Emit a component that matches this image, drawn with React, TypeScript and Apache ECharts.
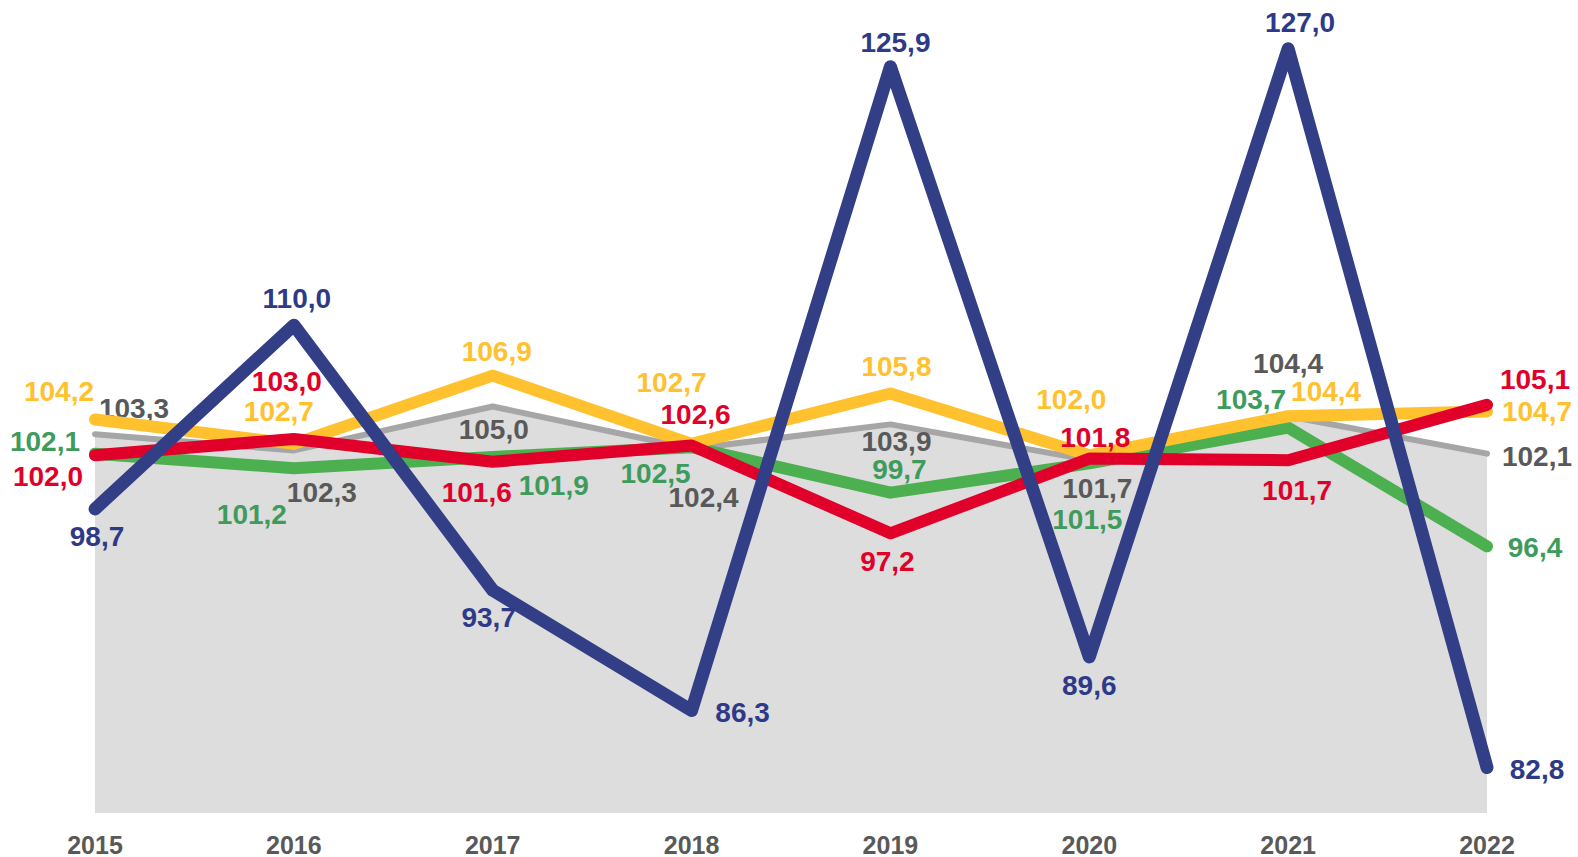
import React, { useEffect, useRef } from "react";
import * as echarts from "echarts";

const years = ["2015", "2016", "2017", "2018", "2019", "2020", "2021", "2022"];
const blueValues = [98.7, 110.0, 93.7, 86.3, 125.9, 89.6, 127.0, 82.8];
const yellowValues = [104.2, 102.7, 106.9, 102.7, 105.8, 102.0, 104.4, 104.7];
const grayValues = [103.3, 102.3, 105.0, 102.4, 103.9, 101.7, 104.4, 102.1];
const greenValues = [102.1, 101.2, 101.9, 102.5, 99.7, 101.5, 103.7, 96.4];
const redValues = [102.0, 103.0, 101.6, 102.6, 97.2, 101.8, 101.7, 105.1];

// label offsets (pixels, relative to each point)
const blueOffsets = [[2, 28], [3, -27], [-4, 27], [51, 2], [5, -24], [0, 29], [12, -26], [50, 2]];
const yellowOffsets = [[-36, -28], [-15, -32], [4, -24], [-20, -61], [6, -27], [-18, -56], [38, -25], [50, 0]];
const grayOffsets = [[39, -26], [28, 42], [1, 23], [12, 49], [6, 17], [8, 28], [0, -53], [50, 3]];
const greenOffsets = [[-50, -12], [-42, 46], [61, 29], [-36, 26], [9, -23], [-2, 56], [-37, -28], [48, 1]];
const redOffsets = [[-47, 21], [-7, -58], [-16, 31], [4, -31], [-3, 28], [6, -21], [9, 30], [48, -25]];

const fmt = (v: number) => v.toFixed(1).replace(".", ",");

function buildData(values: number[], offsets: number[][], color: string) {
  return values.map((v, i) => ({
    value: v,
    label: {
      show: true,
      position: "inside",
      offset: offsets[i],
      formatter: fmt(v),
      color,
      fontFamily: "Liberation Sans, Arial, sans-serif",
      fontWeight: "bold",
      fontSize: 28,
    },
  }));
}

export default function App() {
  const ref = useRef<HTMLDivElement>(null);
  useEffect(() => {
    document.body.style.margin = "0";
    if (!ref.current) return;
    const chart = echarts.init(ref.current, undefined, { renderer: "svg" });
    const lineSeries = (
      name: string,
      values: number[],
      offsets: number[][],
      lineColor: string,
      labelColor: string,
      width: number,
      z: number,
      area?: string
    ) => ({
      name,
      type: "line",
      data: buildData(values, offsets, labelColor),
      symbol: "circle",
      symbolSize: 1,
      showSymbol: true,
      z,
      itemStyle: { color: lineColor },
      lineStyle: { color: lineColor, width, cap: "round", join: "round" },
      areaStyle: area ? { color: area, opacity: 1, origin: "start" } : undefined,
      emphasis: { disabled: true },
    });
    chart.setOption({
      animation: false,
      grid: { left: 95, right: 91, top: 0, bottom: 44, containLabel: false },
      xAxis: {
        type: "category",
        data: years,
        boundaryGap: false,
        axisLine: { show: false },
        axisTick: { show: false },
        splitLine: { show: false },
        axisLabel: {
          color: "#595959",
          fontFamily: "Liberation Sans, Arial, sans-serif",
          fontWeight: "bold",
          fontSize: 25,
          margin: 19,
        },
      },
      yAxis: {
        type: "value",
        min: 80,
        max: 130,
        show: false,
        splitLine: { show: false },
      },
      series: [
        lineSeries("gray", grayValues, grayOffsets, "#A6A6A6", "#595959", 6, 1, "#DDDDDD"),
        lineSeries("green", greenValues, greenOffsets, "#4CAF50", "#3E9B5C", 12, 2),
        lineSeries("yellow", yellowValues, yellowOffsets, "#FFC12E", "#FFC12E", 12, 3),
        lineSeries("red", redValues, redOffsets, "#E0002A", "#E0002A", 12, 4),
        lineSeries("blue", blueValues, blueOffsets, "#323F86", "#2E3A87", 13, 5),
      ],
    });
    return () => chart.dispose();
  }, []);
  return <div ref={ref} style={{ width: 1578, height: 857 }} />;
}
